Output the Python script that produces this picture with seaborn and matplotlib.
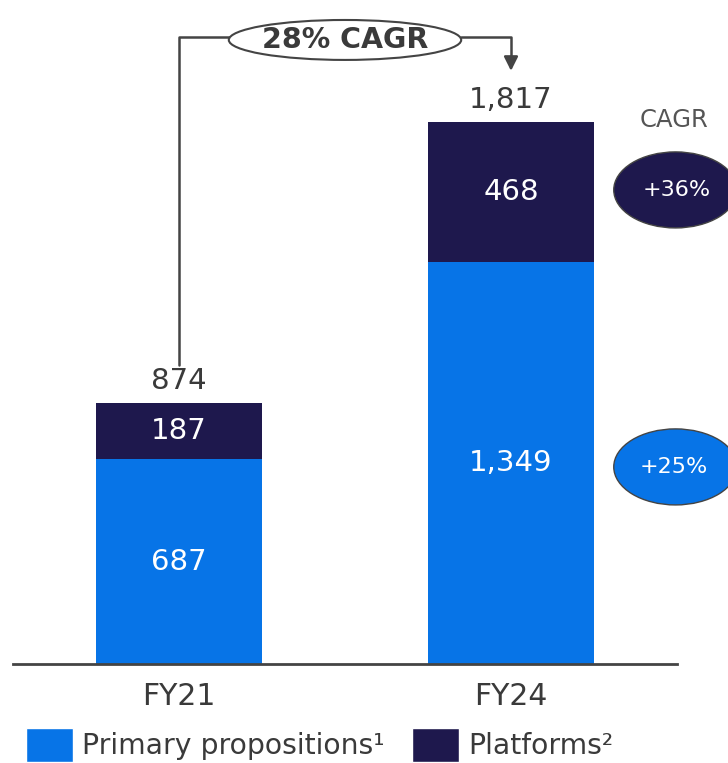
import matplotlib
matplotlib.use("Agg")
import matplotlib.pyplot as plt
import seaborn as sns
import pandas as pd
from matplotlib.patches import Ellipse, Patch

years = ["FY21", "FY24"]
primary = [687, 1349]
platforms = [187, 468]
totals = [874, 1817]
cagr_total = "28% CAGR"
cagr_primary = "+25%"
cagr_platforms = "+36%"
legend_labels = ["Primary propositions\u00b9", "Platforms\u00b2"]

BLUE = "#0774E7"
NAVY = "#1E184D"
TXT = "#3a3a3a"

sns.set_theme(style="white")
plt.rcParams["font.family"] = ["DejaVu Sans"]

df = pd.DataFrame({"year": years, "primary": primary, "platforms": platforms, "total": totals})

fig = plt.figure(figsize=(7.28, 7.63), dpi=100)
ax = fig.add_axes([13/728, 99/763, 664/728, 664/763])

sns.barplot(data=df, x="year", y="total", color=NAVY, width=0.5, saturation=1, ax=ax, linewidth=0, edgecolor="none")
sns.barplot(data=df, x="year", y="primary", color=BLUE, width=0.5, saturation=1, ax=ax, linewidth=0, edgecolor="none")

ax.set_xlim(-0.5, 1.5)
ax.set_ylim(0, 2227)
ax.set_xlabel("")
ax.set_ylabel("")
ax.set_yticks([])
for s in ["left", "right", "top"]:
    ax.spines[s].set_visible(False)
ax.spines["bottom"].set_color("#444444")
ax.spines["bottom"].set_linewidth(2)
ax.tick_params(axis="x", length=0, pad=13, labelsize=21.5, labelcolor=TXT)

for i in range(len(years)):
    ax.text(i, primary[i] / 2, f"{primary[i]:,}", ha="center", va="center", color="white", fontsize=21)
    ax.text(i, primary[i] + platforms[i] / 2, f"{platforms[i]:,}", ha="center", va="center", color="white", fontsize=21)
    ax.annotate(f"{totals[i]:,}", (i, totals[i]), xytext=(0, 6), textcoords="offset points",
                ha="center", va="bottom", color=TXT, fontsize=21)

# Top CAGR connector
y_line = 2103
ax.plot([0, 0, 0.15], [1003, y_line, y_line], color="#444444", lw=1.8, clip_on=False)
ax.plot([0.85, 1.0, 1.0], [y_line, y_line, 2040], color="#444444", lw=1.8, clip_on=False)
ax.annotate("", xy=(1.0, 1980), xytext=(1.0, 2045),
            arrowprops=dict(arrowstyle="-|>,head_width=0.35,head_length=0.7", color="#444444", lw=1.8),
            annotation_clip=False)
ax.add_patch(Ellipse((0.5, 2093), 0.70, 134, facecolor="white", edgecolor="#444444", lw=1.5, clip_on=False, zorder=5))
ax.text(0.5, 2093, cagr_total, ha="center", va="center", fontsize=20.5, fontweight="bold", color=TXT, zorder=6)

# Right CAGR badges
ax.text(1.49, 1824, "CAGR", ha="center", va="center", fontsize=17.5, color="#555555", clip_on=False)
ax.add_patch(Ellipse((1.4955, 1590), 0.372, 255, facecolor=NAVY, edgecolor="#444444", lw=1, clip_on=False))
ax.text(1.50, 1590, cagr_platforms, ha="center", va="center", fontsize=16, color="white", clip_on=False)
ax.add_patch(Ellipse((1.4955, 661), 0.372, 255, facecolor=BLUE, edgecolor="#444444", lw=1, clip_on=False))
ax.text(1.49, 661, cagr_primary, ha="center", va="center", fontsize=16, color="white", clip_on=False)

# Legend
handles = [Patch(facecolor=BLUE), Patch(facecolor=NAVY)]
fig.legend(handles, legend_labels, loc="lower left", bbox_to_anchor=(26/728, 1/763), ncol=2, frameon=False,
           borderpad=0, borderaxespad=0,
           fontsize=20.3, handlelength=1.67, handleheight=1.5, handletextpad=0.33, columnspacing=0.95,
           labelcolor=TXT)

fig.savefig("out.png", dpi=100)
